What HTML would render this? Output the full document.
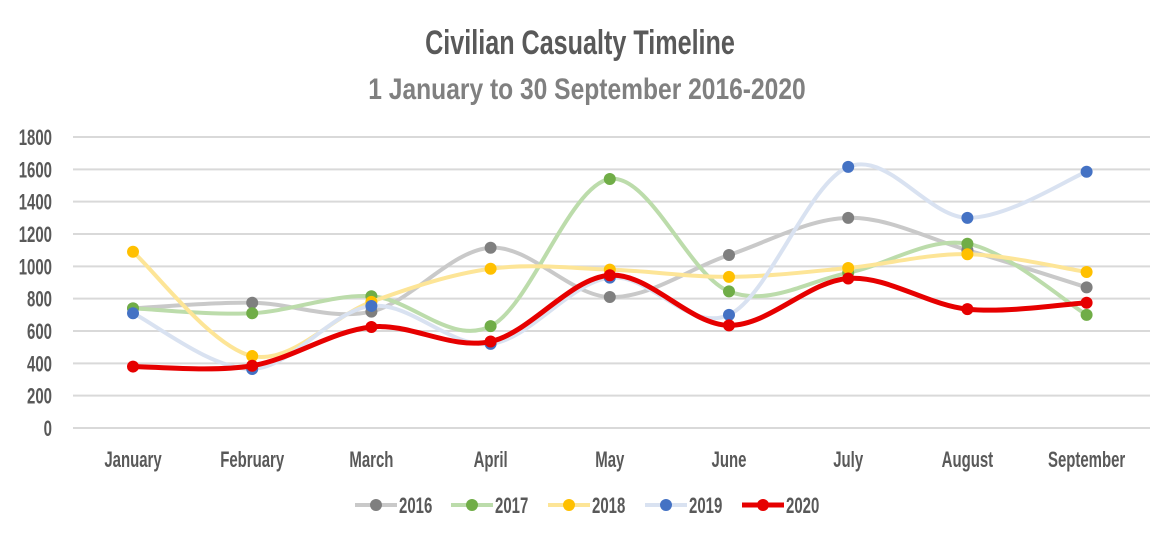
<!DOCTYPE html>
<html><head><meta charset="utf-8"><style>
html,body{margin:0;padding:0;background:#fff;}
svg{display:block;font-family:"Liberation Sans",sans-serif;}
</style></head><body>
<svg id="c" width="1160" height="538" viewBox="0 0 1160 538">
<g transform="translate(580,0) scale(0.74,1)">
<text x="0" y="54" text-anchor="middle" font-size="34" font-weight="bold" fill="#595959">Civilian Casualty Timeline</text>
</g>
<g transform="translate(587,0) scale(0.82,1)">
<text x="0" y="99" text-anchor="middle" font-size="30" font-weight="bold" fill="#808080">1 January to 30 September 2016-2020</text>
</g>
<g id="grid"></g>
<g id="series"></g>
<g id="labels" fill="#595959" font-size="22" font-weight="bold"></g>
<g id="legend" font-size="22" font-weight="bold" fill="#595959"></g>
</svg>
<script>
var NS="http://www.w3.org/2000/svg";
function el(t,a,p){var e=document.createElementNS(NS,t);for(var k in a)e.setAttribute(k,a[k]);p.appendChild(e);return e;}
var g=document.getElementById('grid'),s=document.getElementById('series'),L=document.getElementById('labels'),lg=document.getElementById('legend');
function Y(v){return 428-v*291/1800;}
for(var v=0;v<=1800;v+=200){
 el('line',{x1:73,x2:1150,y1:Y(v),y2:Y(v),stroke:'#d9d9d9','stroke-width':2},g);
 var t=el('text',{x:0,y:0,'text-anchor':'end',transform:'translate(52,'+(Y(v)+8)+') scale(0.68,1)'},L);t.textContent=v;
}
var months=["January","February","March","April","May","June","July","August","September"];
function X(i){return 133+i*119.2;}
months.forEach(function(m,i){var t=el('text',{x:0,y:0,'text-anchor':'middle',transform:'translate('+X(i)+',467) scale(0.68,1)'},L);t.textContent=m;});
var data=[
 ["2016","#c9c9c9","#7f7f7f",[740,775,720,1115,810,1070,1300,1100,870],4],
 ["2017","#bcdcab","#70ad47",[740,710,815,630,1540,845,960,1140,700],4],
 ["2018","#fde597","#ffc000",[1090,445,780,985,980,935,990,1075,965],4],
 ["2019","#d9e2f1","#4472c4",[710,365,755,520,930,700,1615,1300,1585],4],
 ["2020","#e60000","#e60000",[380,385,625,535,945,635,925,735,775],5]
];
function path(p){var d="M"+p[0][0]+","+p[0][1];for(var i=0;i<p.length-1;i++){var p0=p[i-1]||p[i],p1=p[i],p2=p[i+1],p3=p[i+2]||p2,k=1/6;
 d+=" C"+(p1[0]+(p2[0]-p0[0])*k)+","+(p1[1]+(p2[1]-p0[1])*k)+" "+(p2[0]-(p3[0]-p1[0])*k)+","+(p2[1]-(p3[1]-p1[1])*k)+" "+p2[0]+","+p2[1];}return d;}
data.forEach(function(d){
 var pts=d[3].map(function(v,i){return [X(i),Y(v)];});
 el('path',{d:path(pts),fill:'none',stroke:d[1],'stroke-width':d[4],'stroke-linecap':'round'},s);
 pts.forEach(function(p){el('circle',{cx:p[0],cy:p[1],r:6,fill:d[2]},s);});
});
var lx=[355,451,548,645,742];
data.forEach(function(d,i){var x=lx[i];
 el('line',{x1:x,x2:x+42,y1:505,y2:505,stroke:d[1],'stroke-width':d[4]},lg);
 el('circle',{cx:x+21,cy:505,r:6,fill:d[2]},lg);
 var t=el('text',{x:0,y:0,transform:'translate('+(x+44)+',513) scale(0.68,1)'},lg);t.textContent=d[0];});
</script>
</body></html>
